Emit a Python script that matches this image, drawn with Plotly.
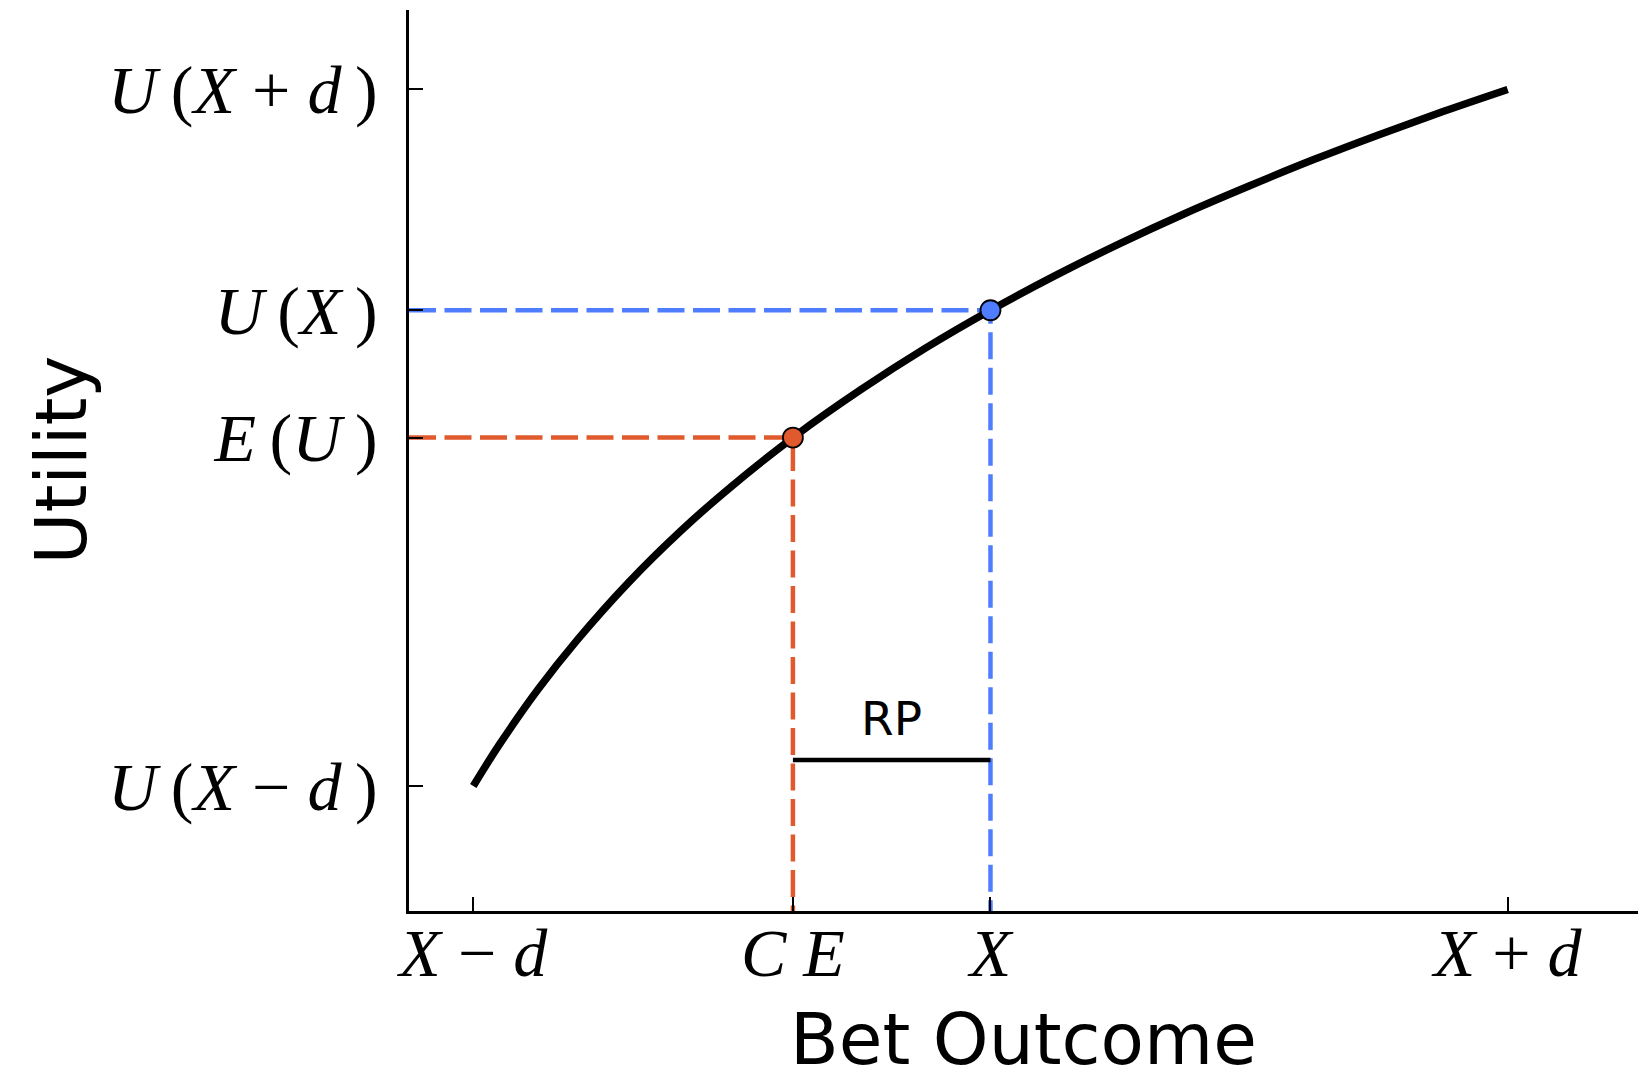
import plotly.graph_objects as go

# Utility curve sampled along the bet outcome axis
outcome = [1.0, 1.1, 1.25, 1.4, 1.6, 1.8, 2.0, 2.25, 2.5, 2.75, 3.0, 3.25, 3.5, 3.75, 4.0, 4.25, 4.5, 4.75, 5.0]
utility = [0.0, 0.095, 0.223, 0.336, 0.470, 0.588, 0.693, 0.811, 0.916, 1.012, 1.099, 1.179, 1.253, 1.322, 1.386, 1.447, 1.504, 1.558, 1.609]

# Key points on the outcome and utility axes
x_low, x_ce, x_mid, x_high = 1.0, 2.236, 3.0, 5.0
u_low, u_exp, u_mid, u_high = 0.0, 0.805, 1.099, 1.609
rp_level = 0.06
rp_label_level = 0.157

x_tick_vals = [x_low, x_ce, x_mid, x_high]
x_tick_text = ["<i>X</i> − <i>d</i>", "<i>C E</i>", "<i>X</i>", "<i>X</i> + <i>d</i>"]
y_tick_vals = [u_low, u_exp, u_mid, u_high]
y_tick_text = ["<i>U</i>\u2009(<i>X</i> − <i>d</i>\u2009)", "<i>E</i>\u2009(<i>U</i>\u2009)",
               "<i>U</i>\u2009(<i>X</i>\u2009)", "<i>U</i>\u2009(<i>X</i> + <i>d</i>\u2009)"]

x_range = [0.7514, 5.504]
y_range = [-0.2887, 1.7926]

blue = "#4f7dff"
orange = "#e05a2e"
dash = "27px,8.5px"

fig = go.Figure()

# Guide lines: from the utility axis to the point, then down to the outcome axis
fig.add_trace(go.Scatter(
    x=[x_range[0], x_ce, x_ce], y=[u_exp, u_exp, y_range[0]],
    mode="lines", line=dict(color=orange, width=4.5, dash=dash),
    hoverinfo="skip", showlegend=False))
fig.add_trace(go.Scatter(
    x=[x_range[0], x_mid, x_mid], y=[u_mid, u_mid, y_range[0]],
    mode="lines", line=dict(color=blue, width=4.5, dash=dash),
    hoverinfo="skip", showlegend=False))

# Concave utility function
fig.add_trace(go.Scatter(
    x=outcome, y=utility, mode="lines",
    line=dict(color="black", width=7.5, shape="spline", smoothing=1.0),
    showlegend=False))

# Certainty equivalent and expected outcome
fig.add_trace(go.Scatter(
    x=[x_ce], y=[u_exp], mode="markers",
    marker=dict(size=20, color=orange, line=dict(color="black", width=1.8)),
    showlegend=False))
fig.add_trace(go.Scatter(
    x=[x_mid], y=[u_mid], mode="markers",
    marker=dict(size=20, color=blue, line=dict(color="black", width=1.8)),
    showlegend=False))

# Risk premium span
fig.add_trace(go.Scatter(
    x=[x_ce, x_mid], y=[rp_level, rp_level], mode="lines",
    line=dict(color="black", width=4.5),
    showlegend=False))

fig.add_annotation(
    x=(x_ce + x_mid) / 2, y=rp_label_level, text="RP", showarrow=False,
    font=dict(family="DejaVu Sans", size=47, color="black"),
    xanchor="center", yanchor="middle")

# Axis titles
fig.add_annotation(
    x=0.5, y=0, xref="paper", yref="paper", text="Bet Outcome", showarrow=False,
    font=dict(family="DejaVu Sans", size=71, color="black"),
    xanchor="center", yanchor="middle", yshift=-128)
fig.add_annotation(
    x=0, y=0.5, xref="paper", yref="paper", text="Utility", showarrow=False,
    font=dict(family="DejaVu Sans", size=71, color="black"),
    textangle=-90, xanchor="center", yanchor="middle", xshift=-348)

tick_font = dict(family="Liberation Serif", size=68, color="black")

fig.update_xaxes(
    range=x_range, showgrid=False, zeroline=False,
    showline=True, linecolor="black", linewidth=2.5,
    ticks="inside", ticklen=14, tickwidth=2, tickcolor="black",
    tickvals=x_tick_vals, ticktext=x_tick_text, tickfont=tick_font,
    ticklabelstandoff=-19)
fig.update_yaxes(
    range=y_range, showgrid=False, zeroline=False,
    showline=True, linecolor="black", linewidth=2.5,
    ticks="inside", ticklen=14, tickwidth=2, tickcolor="black",
    tickvals=y_tick_vals, ticktext=y_tick_text, tickfont=tick_font,
    ticklabelstandoff=15)

fig.update_layout(
    width=1649, height=1071,
    margin=dict(l=409, r=11, t=10, b=160),
    paper_bgcolor="white", plot_bgcolor="white",
    showlegend=False)

fig.write_html("out.html")
